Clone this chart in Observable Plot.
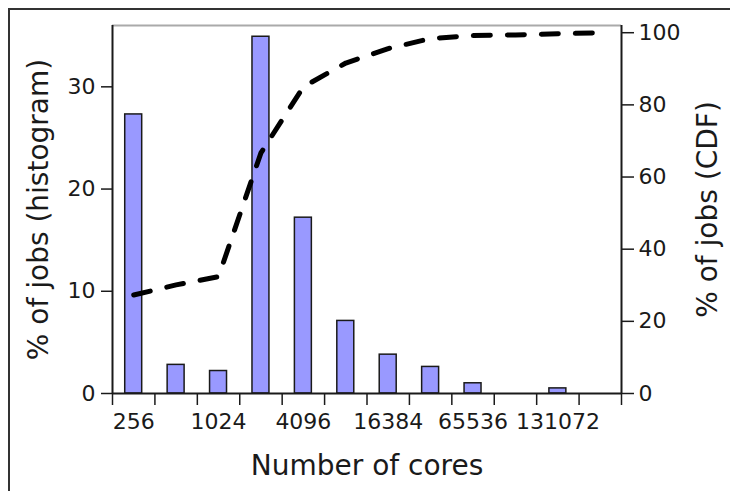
<!DOCTYPE html>
<html><head><meta charset="utf-8">
<script src="https://cdn.jsdelivr.net/npm/d3@7"></script>
<script src="https://cdn.jsdelivr.net/npm/@observablehq/plot@0.6"></script>
<style>
html,body{margin:0;padding:0;background:#fff;overflow:hidden;width:730px;height:491px}
#border{position:absolute;left:8px;top:8px;width:800px;height:600px;border:2px solid #333;box-sizing:border-box}
#chart{position:absolute;left:0;top:0}
</style></head><body>
<div id="border"></div><div id="chart"></div>
<script>
// bin index 0..11 (bins of the histogram, in order along the x axis)
const bins = [0, 1, 2, 3, 4, 5, 6, 7, 8, 9, 10, 11];
// % of jobs per bin (histogram)
const histPct = [27.3, 2.8, 2.2, 34.9, 17.2, 7.1, 3.8, 2.6, 1.0, 0, 0.5, 0];
// cumulative % of jobs (CDF)
const cdfPct = [27.3, 30.1, 32.4, 66.7, 85.0, 91.6, 95.6, 98.4, 99.2, 99.4, 99.7, 100];
// x tick labels and the bins they sit under
const xTickLabels = ["256", "1024", "4096", "16384", "65536", "131072"];
const xTickBins = [0, 2, 4, 6, 8, 10];
const leftTicks = [0, 10, 20, 30];
const rightTicks = [0, 20, 40, 60, 80, 100];
const leftMax = 36, rightMax = 102;
const k = leftMax / rightMax;

const barData = bins.map((b, i) => ({bin: b, pct: histPct[i]})).filter(d => d.pct > 0);
const cdfData = bins.map((b, i) => ({bin: b, cdf: cdfPct[i]}));
const ink = "#1a1a1a";

const chart = Plot.plot({
  width: 730, height: 491,
  marginLeft: 112, marginRight: 109, marginTop: 25, marginBottom: 98,
  x: {domain: [0, 12], axis: null},
  y: {domain: [0, leftMax], axis: null},
  style: {fontFamily: "'DejaVu Sans', sans-serif", fontSize: "22px", color: ink, background: "transparent", overflow: "visible"},
  marks: [
    Plot.rectY(barData, {x1: d => d.bin + 0.3, x2: d => d.bin + 0.7, y: "pct", fill: "#9999ff", stroke: ink, strokeWidth: 1.5}),
    Plot.ruleY([leftMax], {stroke: "#aaaaaa", strokeWidth: 2}),
    Plot.ruleX([0], {stroke: ink, strokeWidth: 2}),
    Plot.ruleX([12], {stroke: ink, strokeWidth: 2}),
    Plot.ruleY([0], {stroke: ink, strokeWidth: 2}),
    Plot.line(cdfData, {x: d => d.bin + 0.5, y: d => d.cdf * k, stroke: "black", strokeWidth: 5, strokeDasharray: "17,17", strokeLinecap: "round"}),
    Plot.axisY(leftTicks, {anchor: "left", tickSize: 11, tickPadding: 6, label: null, strokeWidth: 1.5}),
    Plot.axisY(rightTicks.map(v => v * k), {anchor: "right", tickSize: 12, tickPadding: 5, tickFormat: d => String(Math.round(d / k)), label: null, strokeWidth: 1.5}),
    Plot.axisX(d3.range(13), {anchor: "bottom", tickSize: 12, tickFormat: () => "", label: null, strokeWidth: 1.5}),
    Plot.axisX(xTickBins.map(b => b + 0.5), {anchor: "bottom", tickSize: 0, tickPadding: 20, tickFormat: d => xTickLabels[xTickBins.indexOf(d - 0.5)], label: null}),
    Plot.text(["Number of cores"], {frameAnchor: "bottom", lineAnchor: "middle", dy: 73, fontSize: 28}),
    Plot.text(["% of jobs (histogram)"], {frameAnchor: "left", textAnchor: "middle", lineAnchor: "middle", dx: -73, rotate: -90, fontSize: 28}),
    Plot.text(["% of jobs (CDF)"], {frameAnchor: "right", textAnchor: "middle", lineAnchor: "middle", dx: 87, rotate: -90, fontSize: 28})
  ]
});
document.getElementById("chart").appendChild(chart);
</script>
</body></html>
